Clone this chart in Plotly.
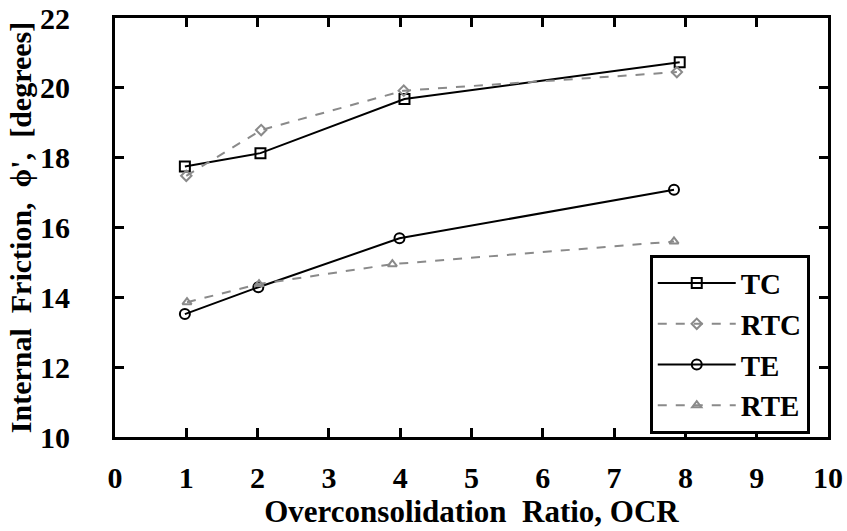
import plotly.graph_objects as go

ocr_tc = [0.98, 2.04, 4.06, 7.92]
phi_tc = [17.75, 18.13, 19.68, 20.73]
ocr_rtc = [1.0, 2.05, 4.05, 7.88]
phi_rtc = [17.48, 18.79, 19.92, 20.45]
ocr_te = [0.98, 2.01, 3.99, 7.84]
phi_te = [13.52, 14.29, 15.69, 17.08]
ocr_rte = [1.01, 2.02, 3.89, 7.84]
phi_rte = [13.86, 14.38, 14.95, 15.6]

x_ticks = list(range(0, 11))
y_ticks = [10, 12, 14, 16, 18, 20, 22]

FONT = "Liberation Serif, Times New Roman, serif"
GRAY = "#8a8a8a"
PAD = "\u00a0" * 4 + "\u2009\u200b"

fig = go.Figure()
fig.add_trace(go.Scatter(x=ocr_tc, y=phi_tc, name="<b>TC</b>", mode="lines+markers",
                         line=dict(color="black", width=2),
                         marker=dict(symbol="square-open", size=10, color="black", line=dict(width=2))))
fig.add_trace(go.Scatter(x=ocr_rtc, y=phi_rtc, name="<b>RTC</b>", mode="lines+markers",
                         line=dict(color=GRAY, width=2, dash="dash"),
                         marker=dict(symbol="diamond-open", size=8, color=GRAY, line=dict(width=2))))
fig.add_trace(go.Scatter(x=ocr_te, y=phi_te, name="<b>TE</b>", mode="lines+markers",
                         line=dict(color="black", width=2),
                         marker=dict(symbol="circle-open", size=10, color="black", line=dict(width=2))))
fig.add_trace(go.Scatter(x=ocr_rte, y=phi_rte, name="<b>RTE</b>", mode="lines+markers",
                         line=dict(color=GRAY, width=2, dash="dash"),
                         marker=dict(symbol="triangle-up-open", size=8, color=GRAY, line=dict(width=2))))

axis_common = dict(showline=True, linecolor="black", linewidth=3, mirror="ticks",
                   ticks="inside", ticklen=9, tickwidth=3, tickcolor="black",
                   showgrid=False, zeroline=False, automargin=False,
                   ticklabeloverflow="allow",
                   tickfont=dict(family=FONT, size=30, color="black"))

fig.update_xaxes(range=[0, 10], tickvals=x_ticks, ticktext=["<b>%d</b>" % v for v in x_ticks],
                 ticklabelstandoff=12,
                 title=dict(text="<b>Overconsolidation  Ratio, OCR</b>", standoff=2,
                            font=dict(family=FONT, size=31, color="black")),
                 **axis_common)
fig.update_yaxes(range=[10, 22], tickvals=y_ticks,
                 ticktext=["<b>%d</b>%s" % (v, PAD) for v in y_ticks],
                 title=dict(text="<b>Internal  Friction,  ϕ',  [degrees]</b>", standoff=0,
                            font=dict(family=FONT, size=30, color="black")),
                 **axis_common)

fig.update_layout(
    width=847, height=531,
    margin=dict(l=115, r=19, t=18, b=94),
    plot_bgcolor="white", paper_bgcolor="white",
    font=dict(family=FONT, color="black"),
    showlegend=True,
    legend=dict(x=0.750, y=0.435, xanchor="left", yanchor="top",
                bordercolor="black", borderwidth=3, bgcolor="white",
                font=dict(family=FONT, size=29, color="black"),
                itemwidth=78, tracegroupgap=0),
)

fig.write_html("out.html", config={"displayModeBar": False},
               post_script="document.body.style.margin='0';")
